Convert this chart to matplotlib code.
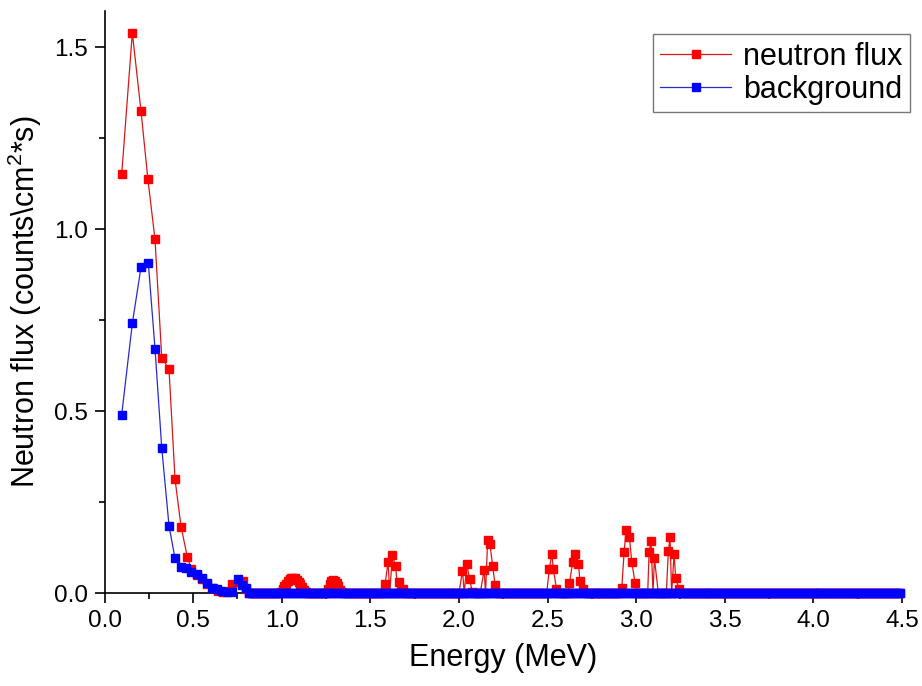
import numpy as np
import matplotlib
matplotlib.use("Agg")
import matplotlib.pyplot as plt
from matplotlib.ticker import MultipleLocator

plt.rcParams['font.family'] = ['Liberation Sans', 'DejaVu Sans']
plt.rcParams['mathtext.fontset'] = 'custom'
plt.rcParams['mathtext.rm'] = 'Liberation Sans'

# low energy part (MeV, counts/cm2/s)
flux_low_e = [0.097, 0.157, 0.206, 0.245, 0.285, 0.323, 0.364, 0.398, 0.432, 0.467,
              0.49, 0.52, 0.55, 0.58, 0.61, 0.64, 0.67, 0.70, 0.72, 0.76, 0.78, 0.80]
flux_low_v = [1.151, 1.54, 1.325, 1.137, 0.972, 0.647, 0.615, 0.313, 0.182, 0.10,
              0.065, 0.05, 0.038, 0.024, 0.013, 0.006, 0.003, 0.005, 0.024, 0.03, 0.034, 0.01]

bg_low_e = [0.097, 0.157, 0.206, 0.247, 0.285, 0.323, 0.364, 0.398, 0.432, 0.46,
            0.49, 0.52, 0.55, 0.577, 0.605, 0.633, 0.66, 0.69, 0.72, 0.755, 0.775, 0.80]
bg_low_v = [0.49, 0.741, 0.896, 0.908, 0.672, 0.399, 0.185, 0.095, 0.072, 0.068,
            0.058, 0.051, 0.040, 0.027, 0.015, 0.010, 0.005, 0.002, 0.004, 0.038, 0.022, 0.015]

# small peaks of the neutron flux above 0.8 MeV
peak_e = [0.995, 1.005, 1.015, 1.025, 1.035, 1.045, 1.055, 1.065, 1.075, 1.085,
          1.095, 1.105, 1.115, 1.125, 1.135,
          1.26, 1.27, 1.28, 1.29, 1.30, 1.31, 1.32, 1.33, 1.34,
          1.583, 1.60, 1.624, 1.643, 1.664, 1.683,
          2.02, 2.044, 2.06, 2.075,
          2.142, 2.162, 2.175, 2.19, 2.204,
          2.51, 2.524, 2.533, 2.55,
          2.623, 2.642, 2.655, 2.674, 2.683, 2.70,
          2.919, 2.932, 2.943, 2.962, 2.975, 2.994,
          3.073, 3.084, 3.103,
          3.182, 3.191, 3.214, 3.223, 3.242]
peak_v = [0.003, 0.01, 0.018, 0.026, 0.033, 0.038, 0.041, 0.042, 0.041, 0.037,
          0.031, 0.024, 0.016, 0.008, 0.003,
          0.012, 0.024, 0.032, 0.035, 0.033, 0.027, 0.018, 0.009, 0.003,
          0.024, 0.085, 0.104, 0.074, 0.031, 0.012,
          0.061, 0.079, 0.038, 0.004,
          0.063, 0.146, 0.135, 0.074, 0.022,
          0.066, 0.107, 0.066, 0.011,
          0.027, 0.084, 0.107, 0.079, 0.034, 0.011,
          0.015, 0.113, 0.173, 0.153, 0.086, 0.027,
          0.112, 0.143, 0.095,
          0.116, 0.153, 0.107, 0.042, 0.011]

# energy bins where both spectra are zero
grid = np.round(np.arange(0.815, 4.501, 0.015), 3)

pk = np.array(peak_e)
keep = np.min(np.abs(grid[:, None] - pk[None, :]), axis=1) > 0.008
fe = np.concatenate([flux_low_e, grid[keep], pk])
fv = np.concatenate([flux_low_v, np.zeros(keep.sum()), peak_v])
order = np.argsort(fe)
fe, fv = fe[order], fv[order]

be = np.concatenate([bg_low_e, grid])
bv = np.concatenate([bg_low_v, np.zeros(len(grid))])

fig = plt.figure(figsize=(9.22, 6.86), dpi=100)
ax = fig.add_axes([104.5 / 922, 1 - 593 / 686, (902 - 104.5) / 922, 582 / 686])

ax.plot(fe, fv, color='#d81818', lw=0.9, marker='s', ms=5.5, mfc='#ff0000', mec='#ff0000',
        clip_on=False, zorder=3, label='neutron flux')
ax.plot(be, bv, color='#2a2ad0', lw=0.9, marker='s', ms=5.5, mfc='#0000ff', mec='#0000ff',
        clip_on=False, zorder=4, label='background')

ax.set_xlim(0, 4.5)
ax.set_ylim(0, 1.6)
ax.xaxis.set_major_locator(MultipleLocator(0.5))
ax.xaxis.set_minor_locator(MultipleLocator(0.25))
ax.yaxis.set_major_locator(MultipleLocator(0.5))
ax.yaxis.set_minor_locator(MultipleLocator(0.25))
ax.xaxis.set_major_formatter(matplotlib.ticker.FormatStrFormatter('%.1f'))
ax.yaxis.set_major_formatter(matplotlib.ticker.FormatStrFormatter('%.1f'))

for s in ['top', 'right']:
    ax.spines[s].set_visible(False)
for s in ['left', 'bottom']:
    ax.spines[s].set_linewidth(1.2)

ax.tick_params(which='major', direction='out', length=7, width=1.2, labelsize=17.5, pad=5)
ax.tick_params(which='minor', direction='out', length=4, width=1.2)

ax.set_xlabel('Energy (MeV)', fontsize=22, labelpad=8)
ax.set_ylabel('Neutron flux (counts\\cm$^{2}$*s)', fontsize=22, labelpad=7)

leg = ax.legend(loc='upper right', bbox_to_anchor=(910 / 922, 1 - 34 / 686),
                bbox_transform=fig.transFigure, fontsize=22, frameon=True, fancybox=False,
                borderaxespad=0, handlelength=2.3, handletextpad=0.4, labelspacing=0.1,
                borderpad=0.25)
leg.get_frame().set_edgecolor('#555555')
leg.get_frame().set_linewidth(1.0)

fig.savefig('out.png', dpi=100)
